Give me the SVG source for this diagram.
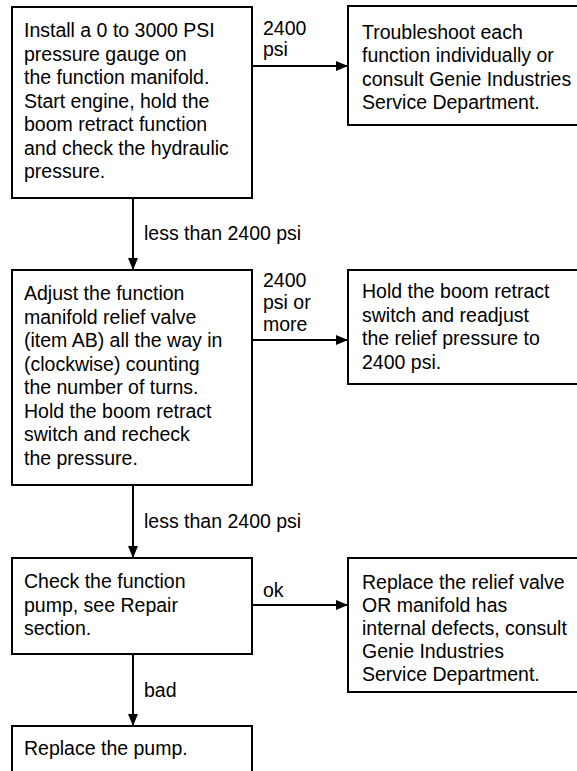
<svg xmlns="http://www.w3.org/2000/svg" width="577" height="771" viewBox="0 0 577 771">
<style>
.box{fill:#fff;stroke:#000;stroke-width:2}
.t{font-family:"Liberation Sans",Arial,Helvetica,sans-serif;font-size:19.5px;fill:#000}
.c{fill:none;stroke:#000;stroke-width:2}
</style>
<defs>
<marker id="ah" markerUnits="userSpaceOnUse" markerWidth="12" markerHeight="10" refX="12" refY="5" orient="auto">
<path d="M0,0 L12,5 L0,10 z" fill="#000"/>
</marker>
</defs>
<rect width="577" height="771" fill="#fff"/>
<g id="connectors">
<line class="c" x1="252" y1="66" x2="348" y2="66" marker-end="url(#ah)"/>
<line class="c" x1="133" y1="198" x2="133" y2="270" marker-end="url(#ah)"/>
<line class="c" x1="252" y1="340" x2="348" y2="340" marker-end="url(#ah)"/>
<line class="c" x1="133" y1="485" x2="133" y2="558" marker-end="url(#ah)"/>
<line class="c" x1="252" y1="605" x2="348" y2="605" marker-end="url(#ah)"/>
<line class="c" x1="133" y1="654" x2="133" y2="726" marker-end="url(#ah)"/>
<text class="t" x="263" y="35">2400</text>
<text class="t" x="263" y="56">psi</text>
<text class="t" x="144" y="240">less than 2400 psi</text>
<text class="t" x="263" y="287">2400</text>
<text class="t" x="263" y="309">psi or</text>
<text class="t" x="263" y="331">more</text>
<text class="t" x="144" y="528">less than 2400 psi</text>
<text class="t" x="263" y="597">ok</text>
<text class="t" x="144" y="697">bad</text>
</g>
<g id="n1">
<rect class="box" x="12" y="7" width="240" height="191"/>
<text class="t" x="24" y="37">Install a 0 to 3000 PSI</text>
<text class="t" x="24" y="60.5">pressure gauge on</text>
<text class="t" x="24" y="84">the function manifold.</text>
<text class="t" x="24" y="107.5">Start engine, hold the</text>
<text class="t" x="24" y="131">boom retract function</text>
<text class="t" x="24" y="154.5">and check the hydraulic</text>
<text class="t" x="24" y="178">pressure.</text>
</g>
<g id="nA">
<rect class="box" x="348" y="6" width="250" height="119"/>
<text class="t" x="362" y="38.5">Troubleshoot each</text>
<text class="t" x="362" y="62">function individually or</text>
<text class="t" x="362" y="85.5">consult Genie Industries</text>
<text class="t" x="362" y="109">Service Department.</text>
</g>
<g id="n2">
<rect class="box" x="12" y="270" width="240" height="215"/>
<text class="t" x="24" y="300">Adjust the function</text>
<text class="t" x="24" y="323.5">manifold relief valve</text>
<text class="t" x="24" y="347">(item AB) all the way in</text>
<text class="t" x="24" y="370.5">(clockwise) counting</text>
<text class="t" x="24" y="394">the number of turns.</text>
<text class="t" x="24" y="417.5">Hold the boom retract</text>
<text class="t" x="24" y="441">switch and recheck</text>
<text class="t" x="24" y="464.5">the pressure.</text>
</g>
<g id="nB">
<rect class="box" x="348" y="270" width="250" height="114"/>
<text class="t" x="362" y="298">Hold the boom retract</text>
<text class="t" x="362" y="321.5">switch and readjust</text>
<text class="t" x="362" y="345">the relief pressure to</text>
<text class="t" x="362" y="368.5">2400 psi.</text>
</g>
<g id="n3">
<rect class="box" x="12" y="558" width="240" height="96"/>
<text class="t" x="24" y="588">Check the function</text>
<text class="t" x="24" y="611.5">pump, see Repair</text>
<text class="t" x="24" y="635">section.</text>
</g>
<g id="nC">
<rect class="box" x="348" y="558" width="250" height="134"/>
<text class="t" x="362" y="589">Replace the relief valve</text>
<text class="t" x="362" y="612">OR manifold has</text>
<text class="t" x="362" y="635">internal defects, consult</text>
<text class="t" x="362" y="658">Genie Industries</text>
<text class="t" x="362" y="681">Service Department.</text>
</g>
<g id="n4">
<rect class="box" x="12" y="726" width="240" height="60"/>
<text class="t" x="24" y="755">Replace the pump.</text>
</g>
</svg>
